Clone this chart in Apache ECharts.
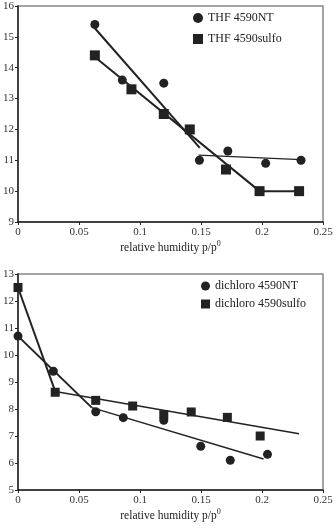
<!DOCTYPE html>
<html>
<head>
<meta charset="utf-8">
<script src="https://cdn.jsdelivr.net/npm/echarts@6/dist/echarts.min.js"></script>
<style>
  html, body { margin: 0; padding: 0; background: #fff; }
  #main { width: 336px; height: 530px; }
</style>
</head>
<body>
<div id="main"></div>
<script>
// top panel (THF)
const thfNT = [[0.063, 15.4], [0.0855, 13.6], [0.1195, 13.5], [0.1487, 11.0], [0.172, 11.3], [0.203, 10.9], [0.232, 11.0]];
const thfSulfo = [[0.063, 14.4], [0.093, 13.3], [0.1195, 12.5], [0.1408, 12.0], [0.1705, 10.7], [0.198, 10.0], [0.2304, 10.0]];
const thfNTFit1 = [[0.063, 15.28], [0.149, 11.4]];
const thfNTFit2 = [[0.148, 11.17], [0.232, 11.02]];
const thfSulfoFit1 = [[0.063, 14.35], [0.198, 10.0]];
const thfSulfoFit2 = [[0.198, 10.0], [0.2304, 10.0]];

// bottom panel (dichloro)
const dcNT = [[0, 10.7], [0.029, 9.4], [0.0637, 7.9], [0.0863, 7.68], [0.1195, 7.58], [0.1498, 6.62], [0.174, 6.1], [0.2045, 6.32]];
const dcSulfo = [[0, 12.5], [0.0305, 8.62], [0.0637, 8.32], [0.094, 8.11], [0.1195, 7.79], [0.142, 7.89], [0.1716, 7.69], [0.1985, 7.0]];
const dcNTFit1 = [[0, 10.7], [0.0605, 8.05]];
const dcNTFit2 = [[0.0605, 8.05], [0.2013, 6.15]];
const dcSulfoFit1 = [[0, 12.5], [0.0305, 8.65]];
const dcSulfoFit2 = [[0.0305, 8.65], [0.2304, 7.08]];

const xTicks = [0, 0.05, 0.1, 0.15, 0.2, 0.25];

const ink = '#222';
const serif = '"Liberation Serif", "DejaVu Serif", serif';

function xAxis(gridIndex) {
  return {
    type: 'value', gridIndex: gridIndex, min: 0, max: 0.25, interval: 0.05,
    name: '{a|relative humidity p/p}{s|0}',
    nameLocation: 'middle', nameGap: 18,
    nameTextStyle: {
      rich: {
        a: { fontFamily: serif, fontSize: 11.5, color: ink },
        s: { fontFamily: serif, fontSize: 8, color: ink, padding: [0, 0, 7, 0] }
      }
    },
    axisLine: { lineStyle: { color: ink, width: 1.5 } },
    axisTick: { length: 3, lineStyle: { color: ink } },
    axisLabel: { fontFamily: serif, fontSize: 11, color: '#333', margin: 5,
      formatter: v => xTicks.includes(+v.toFixed(2)) ? String(+v.toFixed(2)) : '' },
    splitLine: { show: false }
  };
}

function yAxis(gridIndex, min, max) {
  return {
    type: 'value', gridIndex: gridIndex, min: min, max: max, interval: 1,
    axisLine: { show: true, lineStyle: { color: ink, width: 1.5 } },
    axisTick: { length: 3, lineStyle: { color: ink } },
    axisLabel: { fontFamily: serif, fontSize: 11, color: '#333', margin: 4 },
    splitLine: { show: false }
  };
}

function pts(name, data, symbol, size, axis) {
  return {
    name: name, type: 'scatter', data: data, symbol: symbol, symbolSize: size,
    xAxisIndex: axis, yAxisIndex: axis,
    itemStyle: { color: ink, opacity: 1 }, z: 3
  };
}

function fit(data, axis, width) {
  return {
    type: 'line', data: data, symbol: 'none', xAxisIndex: axis, yAxisIndex: axis,
    lineStyle: { color: ink, width: width }, silent: true, z: 2
  };
}

const chart = echarts.init(document.getElementById('main'));
chart.setOption({
  animation: false,
  grid: [
    { left: 16, right: 13, top: 6, height: 216, show: true, borderColor: '#888', borderWidth: 1.5 },
    { left: 16, right: 13, top: 274, height: 216, show: true, borderColor: '#888', borderWidth: 1.5 }
  ],
  xAxis: [xAxis(0), xAxis(1)],
  yAxis: [yAxis(0, 9, 16), yAxis(1, 5, 13)],
  legend: [
    { data: ['THF 4590NT', 'THF 4590sulfo'], orient: 'vertical', left: 188, top: 7,
      itemWidth: 10, itemHeight: 10, itemGap: 9,
      textStyle: { fontFamily: serif, fontSize: 12, color: ink } },
    { data: ['dichloro 4590NT', 'dichloro 4590sulfo'], orient: 'vertical', left: 196, top: 275,
      itemWidth: 9, itemHeight: 9, itemGap: 6,
      textStyle: { fontFamily: serif, fontSize: 12, color: ink } }
  ],
  series: [
    fit(thfNTFit1, 0, 2), fit(thfNTFit2, 0, 1.2),
    fit(thfSulfoFit1, 0, 2), fit(thfSulfoFit2, 0, 2),
    pts('THF 4590NT', thfNT, 'circle', 9, 0),
    pts('THF 4590sulfo', thfSulfo, 'rect', 10, 0),
    fit(dcNTFit1, 1, 2), fit(dcNTFit2, 1, 1.5),
    fit(dcSulfoFit1, 1, 2), fit(dcSulfoFit2, 1, 1.5),
    pts('dichloro 4590NT', dcNT, 'circle', 9, 1),
    pts('dichloro 4590sulfo', dcSulfo, 'rect', 9, 1)
  ]
});
</script>
</body>
</html>
